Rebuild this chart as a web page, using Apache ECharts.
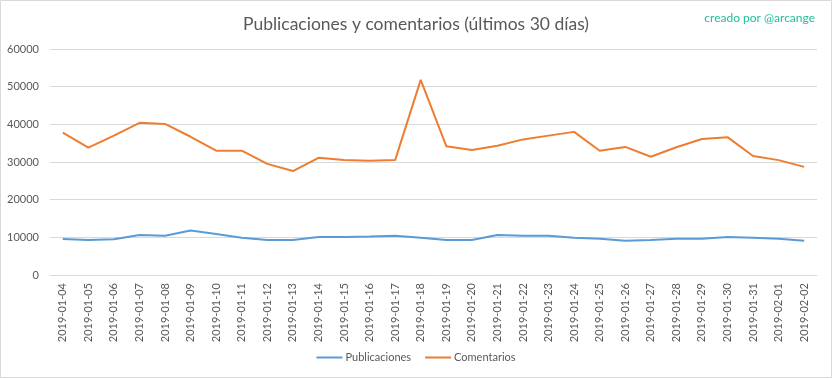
<!DOCTYPE html>
<html>
<head>
<meta charset="utf-8">
<script src="https://cdn.jsdelivr.net/npm/echarts@6/dist/echarts.min.js"></script>
<style>
html,body{margin:0;padding:0;background:#fff;}
#c{width:832px;height:378px;}
</style>
</head>
<body>
<div id="c"></div>
<script>
const categories = ["2019-01-04","2019-01-05","2019-01-06","2019-01-07","2019-01-08","2019-01-09","2019-01-10","2019-01-11","2019-01-12","2019-01-13","2019-01-14","2019-01-15","2019-01-16","2019-01-17","2019-01-18","2019-01-19","2019-01-20","2019-01-21","2019-01-22","2019-01-23","2019-01-24","2019-01-25","2019-01-26","2019-01-27","2019-01-28","2019-01-29","2019-01-30","2019-01-31","2019-02-01","2019-02-02"];
const publicaciones = [9550,9300,9500,10600,10400,11800,10900,9900,9300,9300,10100,10100,10200,10400,9900,9300,9300,10600,10400,10400,9900,9600,9100,9300,9600,9600,10100,9900,9600,9100];
const comentarios = [37800,33800,37000,40400,40100,36700,33000,33000,29500,27600,31100,30500,30300,30500,51800,34200,33200,34300,36000,37000,38000,33000,34000,31400,33900,36100,36600,31600,30500,28700];
const yTicks = [0,10000,20000,30000,40000,50000,60000];

const chart = echarts.init(document.getElementById('c'), null, {renderer:'canvas'});
const txt = '#595959';
const font = 'Lato, "Noto Sans", sans-serif';
chart.setOption({
  animation:false,
  backgroundColor:'#fff',
  graphic:[{type:'rect',shape:{x:0.5,y:0.5,width:831,height:377},style:{fill:'none',stroke:'#d9d9d9',lineWidth:1},silent:true}],
  title:[{
    text:'Publicaciones y comentarios (últimos 30 días)',
    left:'center', top:10,
    textStyle:{fontFamily:font,fontSize:17.5,fontWeight:'normal',color:txt}
  },{
    text:'creado por @arcange',
    right:12, top:7,
    textStyle:{fontFamily:font,fontSize:12,fontWeight:'normal',color:'#1fbf9b'}
  }],
  legend:{
    bottom:10, left:'center',
    itemWidth:26, itemHeight:2, itemGap:14,
    icon:'rect',
    textStyle:{fontFamily:font,fontSize:11,color:txt,padding:[0,0,0,-2]},
    data:['Publicaciones','Comentarios']
  },
  grid:{left:50,right:15,top:49,bottom:103,containLabel:false},
  xAxis:{
    type:'category', data:categories, boundaryGap:true,
    axisLine:{lineStyle:{color:'#d9d9d9'}},
    axisTick:{show:false},
    axisLabel:{rotate:90,interval:0,fontFamily:font,fontSize:11,color:txt,margin:8}
  },
  yAxis:{
    type:'value', min:yTicks[0], max:yTicks[yTicks.length-1], interval:10000,
    axisLine:{show:false}, axisTick:{show:false},
    splitLine:{lineStyle:{color:'#d9d9d9'}},
    axisLabel:{fontFamily:font,fontSize:11,color:txt,margin:11,formatter:function(v){return String(v);}}
  },
  series:[{
    name:'Publicaciones', type:'line', data:publicaciones, symbol:'none',
    lineStyle:{color:'#5b9bd5',width:2}, itemStyle:{color:'#5b9bd5'}
  },{
    name:'Comentarios', type:'line', data:comentarios, symbol:'none',
    lineStyle:{color:'#ed7d31',width:2}, itemStyle:{color:'#ed7d31'}
  }]
});
</script>
</body>
</html>
